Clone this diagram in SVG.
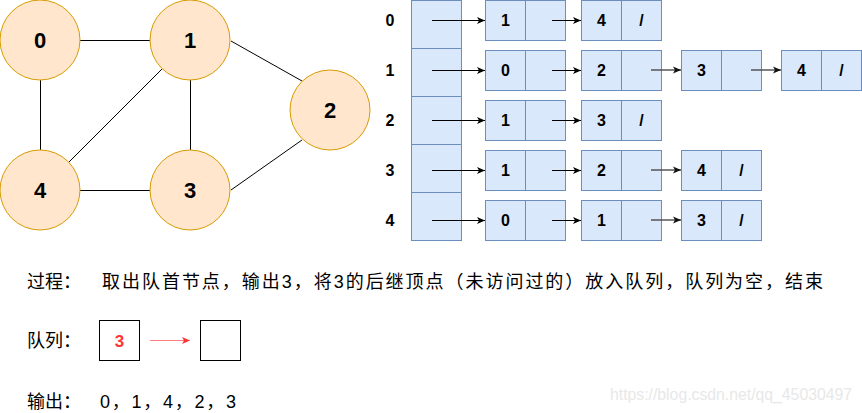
<svg xmlns="http://www.w3.org/2000/svg" width="862" height="413" viewBox="0 0 862 413">
<style>
.v{fill:#ffe6cc;stroke:#d79b00;stroke-width:1}
.vt{font-family:"Liberation Sans",Arial,sans-serif;font-weight:bold;font-size:22px;text-anchor:middle;fill:#000}
.e{stroke:#000;stroke-width:1;fill:none}
.c{fill:#dae8fc;stroke:#6c8ebf;stroke-width:1}
.nt{font-family:"Liberation Sans",Arial,sans-serif;font-weight:bold;font-size:16px;text-anchor:middle;fill:#000}
.a{stroke:#000;stroke-width:1;fill:none;marker-end:url(#ah)}
.g{stroke:#4a4a4a;stroke-width:1.4;fill:none;marker-end:url(#ahg)}
.cn{font-family:"Liberation Sans","Noto Sans CJK SC",sans-serif;font-size:18px;fill:#000}
.q{fill:#fff;stroke:#000;stroke-width:1}
</style>
<defs>
<marker id="ah" markerUnits="userSpaceOnUse" markerWidth="10" markerHeight="10" refX="8" refY="4" orient="auto">
<path d="M0,0.5 L8,4 L0,7.5 L2,4 z" fill="#000"/>
</marker>
<marker id="ahg" markerUnits="userSpaceOnUse" markerWidth="10" markerHeight="10" refX="8" refY="4" orient="auto">
<path d="M0,0.5 L8,4 L0,7.5 L2,4 z" fill="#111"/>
</marker>
<marker id="ahr" markerUnits="userSpaceOnUse" markerWidth="10" markerHeight="10" refX="8" refY="4" orient="auto">
<path d="M0,0.5 L8,4 L0,7.5 L2,4 z" fill="#ff3333"/>
</marker>
</defs>

<g id="edges">
<line class="e" x1="80" y1="40.5" x2="150" y2="40.5"/>
<line class="e" x1="40.5" y1="80" x2="40.5" y2="150"/>
<line class="e" x1="190.5" y1="80" x2="190.5" y2="150"/>
<line class="e" x1="80" y1="190.5" x2="150" y2="190.5"/>
<line class="e" x1="231" y1="41" x2="302" y2="81"/>
<line class="e" x1="231" y1="190" x2="302" y2="140"/>
<line class="e" x1="69" y1="162" x2="162" y2="69"/>
</g>

<g id="v0"><circle class="v" cx="40" cy="40" r="40"/><text class="vt" x="40" y="48">0</text></g>
<g id="v1"><circle class="v" cx="190" cy="40" r="40"/><text class="vt" x="190" y="48">1</text></g>
<g id="v2"><circle class="v" cx="330" cy="110" r="40"/><text class="vt" x="330" y="118">2</text></g>
<g id="v3"><circle class="v" cx="190" cy="190" r="40"/><text class="vt" x="190" y="198">3</text></g>
<g id="v4"><circle class="v" cx="40" cy="190" r="40"/><text class="vt" x="40" y="198">4</text></g>

<g id="array">
<rect class="c" x="411.5" y="0.5" width="50" height="48"/>
<rect class="c" x="411.5" y="48.5" width="50" height="48"/>
<rect class="c" x="411.5" y="96.5" width="50" height="48"/>
<rect class="c" x="411.5" y="144.5" width="50" height="48"/>
<rect class="c" x="411.5" y="192.5" width="50" height="48"/>
<text class="nt" x="390" y="26">0</text>
<text class="nt" x="390" y="76">1</text>
<text class="nt" x="390" y="126">2</text>
<text class="nt" x="390" y="176">3</text>
<text class="nt" x="390" y="226">4</text>
</g>

<g id="row0">
<g id="r0n1"><rect class="c" x="485.5" y="0.5" width="40" height="40"/><rect class="c" x="525.5" y="0.5" width="40" height="40"/><text class="nt" x="505.5" y="26">1</text></g>
<g id="r0n2"><rect class="c" x="581.5" y="0.5" width="40" height="40"/><rect class="c" x="621.5" y="0.5" width="40" height="40"/><text class="nt" x="601.5" y="26">4</text><text class="nt" x="641.5" y="26">/</text></g>
</g>
<g id="row1">
<g id="r1n1"><rect class="c" x="485.5" y="50.5" width="40" height="40"/><rect class="c" x="525.5" y="50.5" width="40" height="40"/><text class="nt" x="505.5" y="76">0</text></g>
<g id="r1n2"><rect class="c" x="581.5" y="50.5" width="40" height="40"/><rect class="c" x="621.5" y="50.5" width="40" height="40"/><text class="nt" x="601.5" y="76">2</text></g>
<g id="r1n3"><rect class="c" x="681.5" y="50.5" width="40" height="40"/><rect class="c" x="721.5" y="50.5" width="40" height="40"/><text class="nt" x="701.5" y="76">3</text></g>
<g id="r1n4"><rect class="c" x="781.5" y="50.5" width="40" height="40"/><rect class="c" x="821.5" y="50.5" width="40" height="40"/><text class="nt" x="801.5" y="76">4</text><text class="nt" x="841.5" y="76">/</text></g>
</g>
<g id="row2">
<g id="r2n1"><rect class="c" x="485.5" y="100.5" width="40" height="40"/><rect class="c" x="525.5" y="100.5" width="40" height="40"/><text class="nt" x="505.5" y="126">1</text></g>
<g id="r2n2"><rect class="c" x="581.5" y="100.5" width="40" height="40"/><rect class="c" x="621.5" y="100.5" width="40" height="40"/><text class="nt" x="601.5" y="126">3</text><text class="nt" x="641.5" y="126">/</text></g>
</g>
<g id="row3">
<g id="r3n1"><rect class="c" x="485.5" y="150.5" width="40" height="40"/><rect class="c" x="525.5" y="150.5" width="40" height="40"/><text class="nt" x="505.5" y="176">1</text></g>
<g id="r3n2"><rect class="c" x="581.5" y="150.5" width="40" height="40"/><rect class="c" x="621.5" y="150.5" width="40" height="40"/><text class="nt" x="601.5" y="176">2</text></g>
<g id="r3n3"><rect class="c" x="681.5" y="150.5" width="40" height="40"/><rect class="c" x="721.5" y="150.5" width="40" height="40"/><text class="nt" x="701.5" y="176">4</text><text class="nt" x="741.5" y="176">/</text></g>
</g>
<g id="row4">
<g id="r4n1"><rect class="c" x="485.5" y="200.5" width="40" height="40"/><rect class="c" x="525.5" y="200.5" width="40" height="40"/><text class="nt" x="505.5" y="226">0</text></g>
<g id="r4n2"><rect class="c" x="581.5" y="200.5" width="40" height="40"/><rect class="c" x="621.5" y="200.5" width="40" height="40"/><text class="nt" x="601.5" y="226">1</text></g>
<g id="r4n3"><rect class="c" x="681.5" y="200.5" width="40" height="40"/><rect class="c" x="721.5" y="200.5" width="40" height="40"/><text class="nt" x="701.5" y="226">3</text><text class="nt" x="741.5" y="226">/</text></g>
</g>

<g id="list-arrows">
<line class="a" x1="432" y1="20.5" x2="485" y2="20.5"/>
<line class="a" x1="552" y1="20.5" x2="581" y2="20.5"/>
<line class="a" x1="432" y1="70.5" x2="485" y2="70.5"/>
<line class="a" x1="552" y1="70.5" x2="581" y2="70.5"/>
<line class="g" x1="651" y1="70" x2="681" y2="70"/>
<line class="g" x1="751" y1="70" x2="781" y2="70"/>
<line class="a" x1="432" y1="120.5" x2="485" y2="120.5"/>
<line class="a" x1="552" y1="120.5" x2="581" y2="120.5"/>
<line class="a" x1="432" y1="170.5" x2="485" y2="170.5"/>
<line class="a" x1="552" y1="170.5" x2="581" y2="170.5"/>
<line class="g" x1="651" y1="170" x2="681" y2="170"/>
<line class="a" x1="432" y1="220.5" x2="485" y2="220.5"/>
<line class="a" x1="552" y1="220.5" x2="581" y2="220.5"/>
<line class="g" x1="651" y1="220" x2="681" y2="220"/>
</g>

<g id="process">
<text class="cn" x="27" y="288">过程：</text>
<text class="cn" x="102" y="288" textLength="721" lengthAdjust="spacing">取出队首节点，输出3，将3的后继顶点（未访问过的）放入队列，队列为空，结束</text>
</g>

<g id="queue">
<text class="cn" x="27" y="347">队列：</text>
<g id="q1"><rect class="q" x="99.5" y="320.5" width="40" height="40"/><text x="119.5" y="346.5" font-family="Liberation Sans, Arial, sans-serif" font-weight="bold" font-size="17" text-anchor="middle" fill="#ff3333">3</text></g>
<line x1="150" y1="340.5" x2="190" y2="340.5" stroke="#ff8080" stroke-width="1.2" marker-end="url(#ahr)"/>
<g id="q2"><rect class="q" x="200.5" y="320.5" width="40" height="40"/></g>
</g>

<g id="output">
<text class="cn" x="27" y="408">输出：</text>
<text class="cn" x="100" y="408" textLength="136" lengthAdjust="spacing">0，1，4，2，3</text>
</g>

<text x="610" y="400" font-family="Liberation Sans, Arial, sans-serif" font-size="16" fill="#e8e8e8" textLength="242" lengthAdjust="spacingAndGlyphs">https://blog.csdn.net/qq_45030497</text>
</svg>
